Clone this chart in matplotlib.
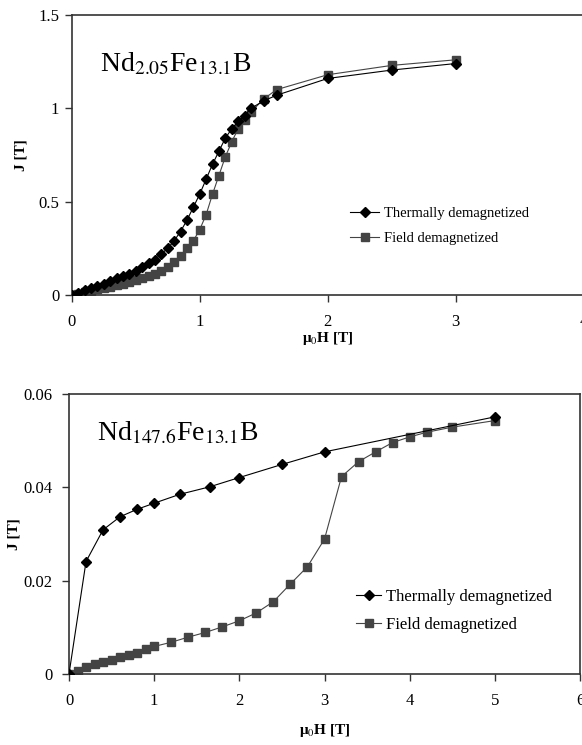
import matplotlib
matplotlib.use('Agg')
import matplotlib.pyplot as plt

plt.rcParams['font.family'] = 'Liberation Serif'
plt.rcParams['mathtext.fontset'] = 'stix'

# top panel: Nd2.05Fe13.1B
TOP_THERMAL_H = [0, 0.05, 0.1, 0.15, 0.2, 0.25, 0.3, 0.35, 0.4, 0.45, 0.5, 0.55,
                 0.6, 0.65, 0.7, 0.75, 0.8, 0.85, 0.9, 0.95, 1.0, 1.05, 1.1, 1.15,
                 1.2, 1.25, 1.3, 1.35, 1.4, 1.5, 1.6, 2.0, 2.5, 3.0]
TOP_THERMAL_J = [0, 0.012, 0.025, 0.035, 0.05, 0.06, 0.075, 0.09, 0.10, 0.115, 0.13, 0.15,
                 0.17, 0.19, 0.22, 0.25, 0.29, 0.34, 0.40, 0.47, 0.54, 0.62, 0.70, 0.77,
                 0.84, 0.89, 0.93, 0.96, 1.0, 1.04, 1.07, 1.16, 1.205, 1.24]
TOP_FIELD_H = [0, 0.05, 0.1, 0.15, 0.2, 0.25, 0.3, 0.35, 0.4, 0.45, 0.5, 0.55,
               0.6, 0.65, 0.7, 0.75, 0.8, 0.85, 0.9, 0.95, 1.0, 1.05, 1.1, 1.15,
               1.2, 1.25, 1.3, 1.35, 1.4, 1.5, 1.6, 2.0, 2.5, 3.0]
TOP_FIELD_J = [0, 0.008, 0.015, 0.022, 0.03, 0.037, 0.045, 0.052, 0.06, 0.07, 0.08, 0.09,
               0.10, 0.115, 0.13, 0.15, 0.175, 0.21, 0.25, 0.29, 0.35, 0.43, 0.54, 0.64,
               0.74, 0.82, 0.89, 0.94, 0.98, 1.05, 1.10, 1.18, 1.23, 1.26]

# bottom panel: Nd147.6Fe13.1B
BOT_THERMAL_H = [0, 0.2, 0.4, 0.6, 0.8, 1.0, 1.3, 1.65, 2.0, 2.5, 3.0, 5.0]
BOT_THERMAL_J = [0, 0.0241, 0.0309, 0.0337, 0.0353, 0.0366, 0.0385, 0.0401,
                 0.0421, 0.0449, 0.0476, 0.0551]
BOT_FIELD_H = [0, 0.1, 0.2, 0.3, 0.4, 0.5, 0.6, 0.7, 0.8, 0.9, 1.0, 1.2, 1.4, 1.6,
               1.8, 2.0, 2.2, 2.4, 2.6, 2.8, 3.0, 3.2, 3.4, 3.6, 3.8, 4.0, 4.2, 4.5, 5.0]
BOT_FIELD_J = [0, 0.0007, 0.0016, 0.0021, 0.0026, 0.0031, 0.0037, 0.0041, 0.0046,
               0.0053, 0.0059, 0.0068, 0.0079, 0.0089, 0.0101, 0.0114, 0.0131, 0.0155,
               0.0193, 0.0230, 0.0289, 0.0423, 0.0455, 0.0476, 0.0496, 0.0508, 0.0518,
               0.0529, 0.0543]

W, H = 582, 745
fig = plt.figure(figsize=(W / 100, H / 100), dpi=100)


def ax_at(x0, y0, x1, y1):
    # pixel box -> figure fraction
    return fig.add_axes([x0 / W, 1 - y1 / H, (x1 - x0) / W, (y1 - y0) / H])


def style(ax, ypad):
    for s in ax.spines.values():
        s.set_linewidth(1.2)
        s.set_color('#333333')
    ax.tick_params(direction='out', length=5, width=1, labelsize=12, color='#333333')
    ax.tick_params(axis='x', pad=9)
    ax.tick_params(axis='y', pad=ypad)


ax1 = ax_at(71.7, 15, 583.7, 295)
ax1.plot(TOP_THERMAL_H, TOP_THERMAL_J, '-D', color='black', lw=0.8, ms=5,
         label='Thermally demagnetized', zorder=3)
ax1.plot(TOP_FIELD_H, TOP_FIELD_J, '-s', color='#444444', lw=0.8, ms=5.5,
         label='Field demagnetized', zorder=2)
ax1.set_xlim(0, 4)
ax1.set_ylim(0, 1.5)
ax1.set_xticks([0, 1, 2, 3, 4])
ax1.set_yticks([0, 0.5, 1, 1.5])
ax1.set_yticklabels(['0', '0.5', '1', '1.5'])
style(ax1, 4)
ax1.set_xlabel('μ$_0$H [T]', fontweight='bold', fontsize=11, labelpad=0)
ax1.set_ylabel('J [T]', fontweight='bold', fontsize=11, labelpad=8)
ax1.text(0.055, 0.80, 'Nd$_{2.05}$Fe$_{13.1}$B', transform=ax1.transAxes,
         fontsize=20, va='baseline')
ax1.legend(loc='center left', bbox_to_anchor=(0.544, 0.246), frameon=False,
           fontsize=10.5, borderpad=0, borderaxespad=0, handlelength=2.0,
           handletextpad=0.3, labelspacing=0.8)

ax2 = ax_at(69, 394, 580, 674)
ax2.plot(BOT_THERMAL_H, BOT_THERMAL_J, '-D', color='black', lw=0.8, ms=5.5,
         label='Thermally demagnetized', zorder=3)
ax2.plot(BOT_FIELD_H, BOT_FIELD_J, '-s', color='#444444', lw=0.8, ms=6,
         label='Field demagnetized', zorder=2)
ax2.set_xlim(0, 6)
ax2.set_ylim(0, 0.06)
ax2.set_xticks([0, 1, 2, 3, 4, 5, 6])
ax2.set_yticks([0, 0.02, 0.04, 0.06])
ax2.set_yticklabels(['0', '0.02', '0.04', '0.06'])
style(ax2, 7)
ax2.set_xlabel('μ$_0$H [T]', fontweight='bold', fontsize=11, labelpad=9)
ax2.set_ylabel('J [T]', fontweight='bold', fontsize=11, labelpad=2)
ax2.text(0.055, 0.836, 'Nd$_{147.6}$Fe$_{13.1}$B', transform=ax2.transAxes,
         fontsize=20, va='baseline')
ax2.legend(loc='center left', bbox_to_anchor=(0.562, 0.225), frameon=False,
           fontsize=12, borderpad=0, borderaxespad=0, handlelength=1.5,
           handletextpad=0.3, labelspacing=0.7)

fig.savefig('out.png', dpi=100)
